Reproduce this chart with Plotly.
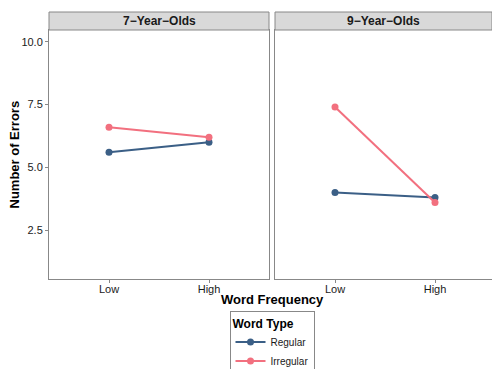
import plotly.graph_objects as go

freq = ["Low", "High"]
panels = ["7\u2212Year\u2212Olds", "9\u2212Year\u2212Olds"]
regular_7 = [5.6, 6.0]
irregular_7 = [6.6, 6.2]
regular_9 = [4.0, 3.8]
irregular_9 = [7.4, 3.6]
y_ticks = [2.5, 5.0, 7.5, 10.0]
y_ticktext = ["2.5", "5.0", "7.5", "10.0"]

c_reg = "#3B5F86"
c_irr = "#F2707F"
FONT = "Liberation Sans, Arial, sans-serif"

W, H = 492, 369
ml, mr, mt, mb = 49, 0, 30, 90
pw = W - ml - mr
ph = H - mt - mb

fig = go.Figure()
series = [
    ("Regular", c_reg, regular_7, regular_9),
    ("Irregular", c_irr, irregular_7, irregular_9),
]
for name, col, v7, v9 in series:
    fig.add_trace(go.Scatter(x=freq, y=v7, mode="lines+markers", name=name,
                             line=dict(color=col, width=2), marker=dict(color=col, size=7),
                             xaxis="x", yaxis="y", legendgroup=name, showlegend=True))
    fig.add_trace(go.Scatter(x=freq, y=v9, mode="lines+markers", name=name,
                             line=dict(color=col, width=2), marker=dict(color=col, size=7),
                             xaxis="x2", yaxis="y2", legendgroup=name, showlegend=False))

d1 = [0, 220 / pw]
d2 = [226 / pw, 1]
base = dict(showline=True, linecolor="#888888", linewidth=1, mirror=True,
            showgrid=False, zeroline=False, ticklen=3, automargin=False,
            tickcolor="#888888", tickfont=dict(family=FONT, size=11, color="#1a1a1a"))
fig.update_layout(
    xaxis=dict(domain=d1, range=[-0.6, 1.6], type="category", anchor="y", ticks="outside",
               ticklabelstandoff=-3, **base),
    xaxis2=dict(domain=d2, range=[-0.6, 1.57], type="category", anchor="y2", ticks="outside",
                ticklabelstandoff=-3, **base),
    yaxis=dict(domain=[0, 1], range=[0.55, 10.47], anchor="x", tickvals=y_ticks,
               ticktext=y_ticktext, ticks="outside", **base),
    yaxis2=dict(domain=[0, 1], range=[0.55, 10.47], anchor="x2", tickvals=y_ticks,
                showticklabels=False, ticks="", **base),
)

strip_h = 18 / ph
for i, (xr, label) in enumerate([("x", panels[0]), ("x2", panels[1])]):
    yr = "y" if i == 0 else "y2"
    fig.add_shape(type="rect", xref=f"{xr} domain", yref=f"{yr} domain",
                  x0=0, x1=1, y0=1, y1=1 + strip_h,
                  fillcolor="#D9D9D9", line=dict(color="#888888", width=1))
    fig.add_annotation(xref=f"{xr} domain", yref=f"{yr} domain", x=0.5, y=1 + strip_h / 2,
                       xanchor="center", yanchor="middle",
                       text=f"<b>{label}</b>", showarrow=False,
                       font=dict(family=FONT, size=12, color="#1a1a1a"))

fig.add_annotation(xref="paper", yref="paper", x=(272 - ml) / pw, y=-(299 - (mt + ph)) / ph,
                   xanchor="center", yanchor="middle",
                   text="<b>Word Frequency</b>", showarrow=False,
                   font=dict(family=FONT, size=13, color="black"))
fig.add_annotation(xref="paper", yref="paper", x=(14 - ml) / pw, y=0.5, textangle=-90,
                   xanchor="center", yanchor="middle",
                   text="<b>Number of Errors</b>", showarrow=False,
                   font=dict(family=FONT, size=13, color="black"))

fig.update_layout(
    width=W, height=H,
    margin=dict(l=ml, r=mr, t=mt, b=mb, autoexpand=False),
    paper_bgcolor="white", plot_bgcolor="white",
    legend=dict(x=(272 - ml) / pw, xanchor="center", y=-(311 - (mt + ph)) / ph, yanchor="top",
                bordercolor="#888888", borderwidth=1, bgcolor="white",
                title=dict(text="<b>Word Type</b>", font=dict(family=FONT, size=12, color="black"),
                           side="top"),
                font=dict(family=FONT, size=10, color="#1a1a1a"),
                itemwidth=30, tracegroupgap=0),
)

fig.write_html("out.html", config={"displayModeBar": False},
               post_script="document.body.style.margin='0';document.body.style.overflow='hidden';")
